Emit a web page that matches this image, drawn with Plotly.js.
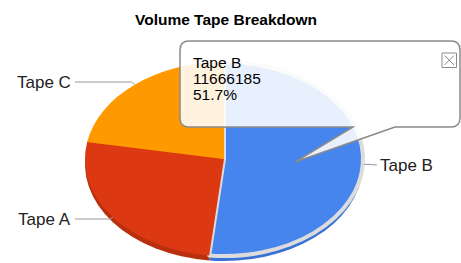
<!DOCTYPE html>
<html>
<head>
<meta charset="utf-8">
<script src="https://cdn.plot.ly/plotly-3.0.1.min.js"></script>
<style>
  html, body { margin: 0; padding: 0; background: #fff; }
  #chart { width: 461px; height: 263px; }
</style>
</head>
<body>
<div id="chart"></div>
<script>
// ---- data ----
const labels = ['Tape B', 'Tape A', 'Tape C'];
const values = [11666185, 5890000, 5009000];
const topColors = ['#4684ee', '#dc3912', '#ff9900'];
const sideColors = ['#3a72d6', '#b8300e', '#d27e00'];
const chartTitle = 'Volume Tape Breakdown';
const selectedIndex = 0;

// ---- layout constants (pixels) ----
const W = 461, H = 263;
const CX = 224, CY = 159, RX = 139, RY = 97, DEPTH = 5;
const FONT = 'Arial, "Liberation Sans", sans-serif';
const TIP_FONT = 15.5, TIP_LINE = 16, TIP_X = 191, TIP_BASE0 = 67.5;
const labelLayout = [
  { side: 'right', x: 378, y: 165, lineEnd: 377 },
  { side: 'left', x: 73, y: 219, lineEnd: 75 },
  { side: 'left', x: 73, y: 82, lineEnd: 75 }
];

const X = px => px / W;
const Y = py => 1 - py / H;
const pathFrom = cmds => cmds.map(c => c[0] + (c.length > 1 ? c.slice(1).map((v, i) => i % 2 === 0 ? X(v) : Y(v)).join(',') : '')).join(' ');

const total = values.reduce((a, b) => a + b, 0);

// mid angles (degrees clockwise from 12 o'clock)
let cum = 0;
const mids = values.map(v => { const a0 = cum; cum += v / total * 360; return (a0 + cum) / 2; });
const edgePts = mids.map(m => {
  const t = m * Math.PI / 180;
  return [CX + RX * Math.sin(t), CY - RY * Math.cos(t)];
});

const traces = [
  {
    type: 'pie', labels: labels, values: values, sort: false, direction: 'clockwise', rotation: 0,
    marker: { colors: sideColors, line: { width: 0 } },
    textinfo: 'none', hoverinfo: 'none', showlegend: false,
    domain: { x: [0, 1], y: [0, 1] }
  },
  {
    type: 'pie', labels: labels, values: values, sort: false, direction: 'clockwise', rotation: 0,
    marker: {
      colors: topColors,
      line: { color: labels.map((l, i) => i === selectedIndex ? '#dcdcdc' : 'rgba(0,0,0,0)'),
              width: labels.map((l, i) => i === selectedIndex ? 4 : 0) }
    },
    textinfo: 'none', hoverinfo: 'none', showlegend: false,
    domain: { x: [0, 1], y: [0, 1] }
  }
];

const shapes = [];
const annotations = [];

// slice labels with leader lines
labels.forEach((lab, i) => {
  const L = labelLayout[i];
  const E = edgePts[i];
  annotations.push({
    xref: 'paper', yref: 'paper', x: X(L.x), y: Y(L.y),
    xanchor: L.side === 'left' ? 'right' : 'left', yanchor: 'middle',
    text: lab, showarrow: false,
    font: { family: FONT, size: 17, color: '#222' }
  });
  let cmds;
  if (L.side === 'left') {
    cmds = [['M', L.lineEnd, L.y], ['L', E[0] - 3, L.y], ['L', E[0], E[1]]];
  } else {
    cmds = [['M', E[0] + 1, E[1]], ['L', L.lineEnd, L.y]];
  }
  shapes.push({ type: 'path', xref: 'paper', yref: 'paper', path: pathFrom(cmds),
                line: { color: '#999', width: 1 } });
});

// tooltip callout
const tb = { x0: 180, y0: 41, x1: 460, y1: 127, r: 9 };
const tip = [295, 162], pA = 395, pB = 353;
const tipPath = pathFrom([
  ['M', tb.x0 + tb.r, tb.y0], ['L', tb.x1 - tb.r, tb.y0], ['Q', tb.x1, tb.y0, tb.x1, tb.y0 + tb.r],
  ['L', tb.x1, tb.y1 - tb.r], ['Q', tb.x1, tb.y1, tb.x1 - tb.r, tb.y1],
  ['L', pA, tb.y1], ['L', tip[0], tip[1]], ['L', pB, tb.y1],
  ['L', tb.x0 + tb.r, tb.y1], ['Q', tb.x0, tb.y1, tb.x0, tb.y1 - tb.r],
  ['L', tb.x0, tb.y0 + tb.r], ['Q', tb.x0, tb.y0, tb.x0 + tb.r, tb.y0], ['Z']
]);
shapes.push({ type: 'path', xref: 'paper', yref: 'paper', path: tipPath, layer: 'above',
              fillcolor: 'rgba(255,255,255,0.88)', line: { color: '#8a8a8a', width: 1.5 } });
// close box
shapes.push({ type: 'rect', xref: 'paper', yref: 'paper', x0: X(442), x1: X(456.5), y0: Y(53), y1: Y(67.5),
              line: { color: '#8a8a8a', width: 1 }, fillcolor: 'rgba(255,255,255,0)' });
shapes.push({ type: 'line', xref: 'paper', yref: 'paper', x0: X(444.5), y0: Y(55.5), x1: X(454), y1: Y(65),
              line: { color: '#8a8a8a', width: 1 } });
shapes.push({ type: 'line', xref: 'paper', yref: 'paper', x0: X(454), y0: Y(55.5), x1: X(444.5), y1: Y(65),
              line: { color: '#8a8a8a', width: 1 } });

const tipLines = [labels[selectedIndex], String(values[selectedIndex]),
                  (values[selectedIndex] / total * 100).toFixed(1) + '%'];
const tipAnnIndex = annotations.length;
annotations.push({
  xref: 'paper', yref: 'paper', x: X(TIP_X), y: Y(TIP_BASE0 + TIP_LINE - 5), xanchor: 'left', yanchor: 'middle',
  align: 'left', text: tipLines.join('<br>'), showarrow: false,
  font: { family: FONT, size: TIP_FONT, color: '#000' }
});

const layout = {
  width: W, height: H,
  margin: { l: 0, r: 0, t: 0, b: 0 },
  paper_bgcolor: '#fff', plot_bgcolor: '#fff',
  showlegend: false,
  title: { text: '<b>' + chartTitle + '</b>', xref: 'container', yref: 'container',
           x: X(226), xanchor: 'center', y: Y(20), yanchor: 'middle',
           font: { family: FONT, size: 15.5, color: '#000' } },
  shapes: shapes,
  annotations: annotations
};

const gd = document.getElementById('chart');
Plotly.newPlot(gd, traces, layout, { staticPlot: true, displayModeBar: false }).then(() => {
  // flatten the pie into a tilted 3D-looking ellipse
  const groups = gd.querySelectorAll('.pielayer .trace');
  groups.forEach((g, i) => {
    const cd0 = gd.calcdata[i][0];
    const dy = i === 0 ? DEPTH : 0;
    const sx = RX / cd0.r, sy = RY / cd0.r;
    g.setAttribute('transform',
      'translate(' + CX + ',' + (CY + dy) + ') scale(' + sx + ',' + sy + ') translate(' + (-cd0.cx) + ',' + (-cd0.cy) + ')');
    g.querySelectorAll('path').forEach(p => p.setAttribute('vector-effect', 'non-scaling-stroke'));
  });
  // tighten tooltip line spacing: put each line on its own row
  const ann = gd.querySelector('.infolayer .annotation[data-index="' + tipAnnIndex + '"] text.annotation-text');
  if (ann) {
    const lines = ann.querySelectorAll('tspan.line');
    if (lines.length) {
      const svgRect = gd.querySelector('.main-svg').getBoundingClientRect();
      const ctm = ann.getScreenCTM();
      const offY = ctm ? (ctm.f - svgRect.top) : 0;
      lines.forEach((t, k) => {
        t.setAttribute('dy', '0');
        t.setAttribute('y', String(TIP_BASE0 + k * TIP_LINE - offY));
      });
    }
  }
});
</script>
</body>
</html>
